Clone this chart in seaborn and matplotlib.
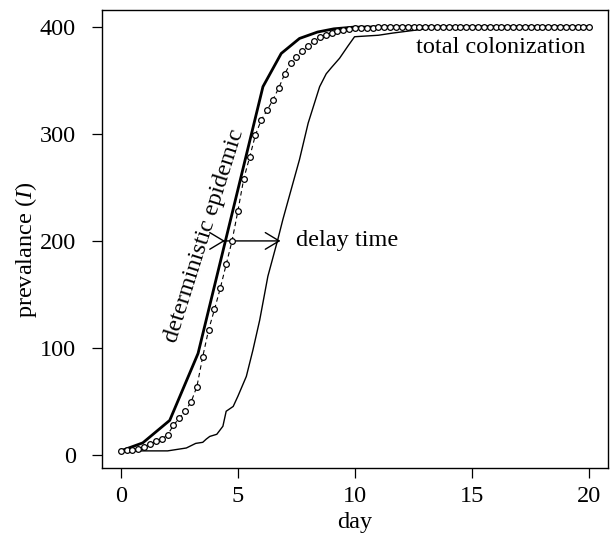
import numpy as np
import pandas as pd
import matplotlib
matplotlib.use("Agg")
import matplotlib.pyplot as plt
import seaborn as sns

# ---------------- data ----------------
det_day = [0, 0.94, 2.09, 3.3, 6.07, 6.85, 7.63, 8.4, 9.1, 9.9, 12, 15, 20]
det_val = [4, 11.5, 32.5, 95, 344, 375, 389, 395, 398, 399.5, 400, 400, 400]

sto_day = list(np.arange(0, 20.001, 0.25))
sto_val = [4, 4.5, 5, 6, 7.5, 10, 13, 15.5, 19, 28, 34.5, 41.5, 49.5, 64, 92,
           117, 136, 156, 178, 200, 228, 258, 278, 299, 313,
           322, 332, 343, 356, 366, 372, 377, 382, 387, 390, 392, 394, 396, 397, 398, 398.5,
           398.8, 399, 399.2, 399.4, 399.5, 399.6, 399.7, 399.8,
           400, 400, 400, 400, 400, 400, 400, 400, 400, 400, 400, 400, 400, 400, 400, 400,
           400, 400, 400, 400, 400, 400, 400, 400, 400, 400, 400, 400, 400, 400, 400, 400]

delay_day = [0, 1, 2, 2.8, 3.2, 3.5, 3.65, 3.8, 4.1, 4.36, 4.5, 4.8, 5.0, 5.36, 5.64,
             5.93, 6.28, 6.7, 6.92, 7.3, 7.63, 8.0, 8.49, 8.77, 9.0, 9.34, 9.7, 9.98,
             11, 11.6, 13.2, 15, 20]
delay_val = [4, 4, 4, 6.7, 11, 12, 15, 17.5, 19.5, 27, 41, 45.5, 55, 73.5, 98,
             126, 167, 201, 220, 250, 276, 310, 344, 356, 362, 370.5, 382, 390.6,
             392, 394, 398.5, 400, 400]

xticks = [0, 5, 10, 15, 20]
yticks = [0, 100, 200, 300, 400]

# ---------------- style ----------------
sns.set_style("ticks")
plt.rcParams["font.family"] = ["Liberation Serif", "DejaVu Serif"]
plt.rcParams["mathtext.fontset"] = "custom"
plt.rcParams["mathtext.rm"] = "Liberation Serif"
plt.rcParams["mathtext.it"] = "Liberation Serif:italic"
for key in ["text.color", "axes.labelcolor", "xtick.color", "ytick.color",
            "axes.edgecolor"]:
    plt.rcParams[key] = "black"
FS = 17.5

fig = plt.figure(figsize=(6.12, 5.39), dpi=100)
ax = fig.add_axes([0.1667, 0.132, 0.8268, 0.850])

det_df = pd.DataFrame({"day": det_day, "I": det_val})
sto_df = pd.DataFrame({"day": sto_day, "I": sto_val})
del_df = pd.DataFrame({"day": delay_day, "I": delay_val})

sns.lineplot(data=del_df, x="day", y="I", ax=ax, color="black", lw=1.0,
             sort=False, estimator=None)
sns.lineplot(data=det_df, x="day", y="I", ax=ax, color="black", lw=2.0,
             sort=False, estimator=None)
sns.lineplot(data=sto_df, x="day", y="I", ax=ax, color="black", lw=0.8,
             dashes=False, linestyle=(0, (4, 3)), sort=False, estimator=None)
ax.plot(sto_day, sto_val, linestyle="none", marker="o", ms=4.1,
        mfc="white", mec="black", mew=0.9, zorder=5)

ax.set_xlim(-0.8, 20.8)
ax.set_ylim(-11.84, 415.84)
ax.set_xticks(xticks)
ax.set_yticks(yticks)
ax.set_xticklabels([str(v) for v in xticks], fontsize=FS, color="black")
ax.set_yticklabels([str(v) for v in yticks], fontsize=FS, color="black")
ax.tick_params(axis="both", direction="out", length=7, width=0.9, color="black",
               labelcolor="black", pad=6)
ax.tick_params(axis="y", pad=12)
for s in ax.spines.values():
    s.set_visible(True)
    s.set_linewidth(1.0)
    s.set_color("black")

ax.set_xlabel("day", fontsize=FS, labelpad=4, color="black")
ax.set_ylabel("prevalance ($I$)", fontsize=FS, color="black")
ax.yaxis.set_label_coords(-0.125, 0.476)

# annotations
ax.text(3.58, 205, "deterministic epidemic", fontsize=FS, rotation=72.5,
        ha="center", va="center", rotation_mode="anchor", color="black")
ax.text(7.5, 200, "delay time", fontsize=FS, ha="left", va="center", color="black")
ax.text(12.6, 381, "total colonization", fontsize=FS, ha="left", va="center",
        color="black")

ap = dict(arrowstyle="->,head_length=0.5,head_width=0.3", color="black",
          lw=1.0, mutation_scale=20, shrinkA=0, shrinkB=0)
ax.annotate("", xy=(6.82, 200), xytext=(4.45, 200), arrowprops=ap)
ax.annotate("", xy=(4.45, 200), xytext=(4.38, 200), arrowprops=ap)

fig.savefig("out.png", dpi=100)
